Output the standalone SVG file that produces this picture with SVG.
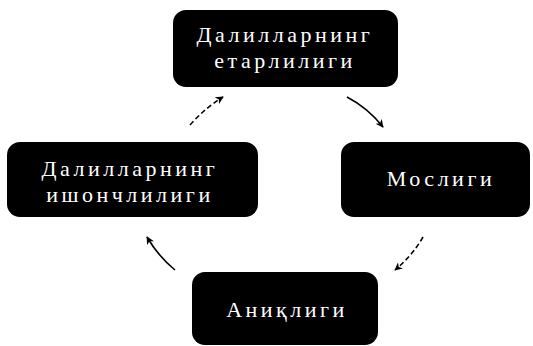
<svg xmlns="http://www.w3.org/2000/svg" width="533" height="346" viewBox="0 0 533 346">
<defs>
<style>
.box{fill:#000;}
.lbl{fill:#fff;font-family:"Liberation Serif","DejaVu Serif",serif;font-size:22px;text-anchor:middle;letter-spacing:3.5px;}
.con{fill:none;stroke:#000;stroke-width:1.6;}
.dash{stroke-dasharray:5 3;}
</style>
<marker id="ah" viewBox="0 0 10 10" refX="9" refY="5" markerWidth="8" markerHeight="8" orient="auto" markerUnits="userSpaceOnUse">
<path d="M0,0 L10,5 L0,10 L3,5 Z" fill="#000"/>
</marker>
</defs>
<rect width="533" height="346" fill="#fff"/>
<g id="node-top">
<rect class="box" x="173" y="10" width="225" height="77" rx="13"/>
<text class="lbl" x="285" y="42">Далилларнинг</text>
<text class="lbl" x="285" y="68">етарлилиги</text>
</g>
<g id="node-right">
<rect class="box" x="341" y="142" width="189" height="75" rx="13"/>
<text class="lbl" x="441" y="186">Мослиги</text>
</g>
<g id="node-bottom">
<rect class="box" x="192" y="272" width="186" height="73" rx="13"/>
<text class="lbl" x="287" y="317">Аниқлиги</text>
</g>
<g id="node-left">
<rect class="box" x="7" y="142" width="251" height="75" rx="13"/>
<text class="lbl" x="130" y="176">Далилларнинг</text>
<text class="lbl" x="130" y="202">ишончлилиги</text>
</g>
<g id="connectors">
<path class="con" d="M347,97 Q368,108 383,127" marker-end="url(#ah)"/>
<path class="con dash" d="M423,237 Q412,256 395,270" marker-end="url(#ah)"/>
<path class="con" d="M175,270 Q158,256 147,237" marker-end="url(#ah)"/>
<path class="con dash" d="M190,125 Q205,108 223,97" marker-end="url(#ah)"/>
</g>
</svg>
